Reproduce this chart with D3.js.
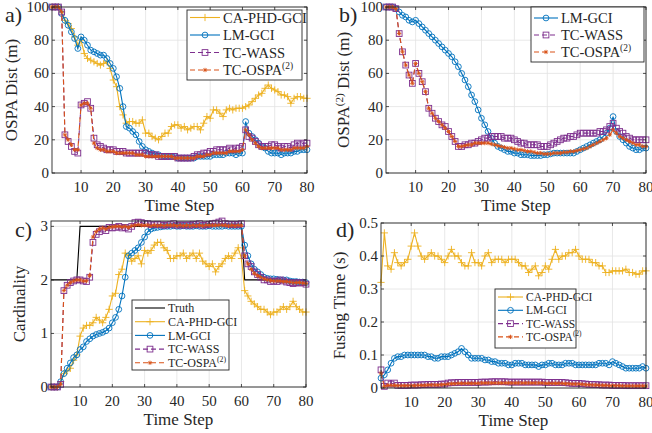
<!DOCTYPE html>
<html><head><meta charset="utf-8">
<script src="https://cdn.jsdelivr.net/npm/d3@7"></script>
<style>body{margin:0;background:#fff}svg{display:block;font-family:'Liberation Serif','DejaVu Serif','Times New Roman',serif}</style>
</head><body><svg id="c" width="652" height="433" font-family="Liberation Serif, DejaVu Serif, serif"></svg>
<script>
const timeSteps = d3.range(1, 81);
const xTicks = [10,20,30,40,50,60,70,80];

// Panel a) OSPA Dist (m)
const a_CA = [100,100,100,97,92,90,87,82,77,80, 72,69,68,67,66,65,66,67,63,56, 52,40,35,30,31,31,30,30,32,24, 24,22,21,20,22,24,24,28,29,29, 27,28,26,27,28,28,26,30,34,33, 38,38,36,34,38,39,38,39,39,39, 40,41,43,45,47,48,51,53,51,50, 49,47,47,46,42,45,46,46,45,45];
const a_LM = [100,100,100,96,92,89,85,81,75,82, 80,77,74,73,72,71,71,69,66,63, 58,51,40,28,27,25,23,19,16,14, 13,12,11,11,10,10,10,10,10,9, 9,9,9,9,9,10,10,10,10,10, 11,11,11,11,12,12,12,11,12,12, 31,24,22,20,18,16,15,13,12,12, 12,11,12,12,12,13,13,14,14,14];
const a_WASS = [100,100,100,97,23,19,16,13,12,41, 42,43,39,21,17,16,15,14,14,14, 13,13,13,12,12,12,12,12,12,12, 11,11,11,10,10,10,10,10,10,9, 9,9,9,9,10,11,11,12,12,13, 13,14,14,14,14,15,14,15,15,16, 26,22,21,19,17,16,16,16,17,17, 16,15,16,16,15,17,18,17,18,18];
const a_OSPA = [100,100,100,97,23,20,17,14,14,41, 42,42,39,18,15,14,14,13,13,13, 12,12,12,12,12,12,11,11,11,10, 10,10,10,10,10,10,10,10,9,9, 9,9,9,9,9,10,10,10,11,11, 12,12,12,12,12,13,13,13,13,14, 26,23,20,18,16,15,15,15,15,15, 15,14,14,14,14,15,15,15,15,16];

// Panel b) OSPA(2) Dist (m)
const b_LM = [100,100,100,99,97,95,94,92,91,92, 90,88,86,84,82,80,78,76,74,72, 70,67,64,60,56,52,47,43,38,33, 29,25,21,18,16,15,14,13,13,12, 12,11,11,11,10.5,10.5,10.5,10.5,11,11, 11.5,12,12,12,12,12,12,12,13,14, 15,16,17,18,19,20,22,24,27,34, 25,22,20,18,16,15,14,14,15,15];
const b_WASS = [100,100,100,99,84,73,65,59,54,66, 60,55,49,39,36,33,31,29,28,25, 22,19,16,16,17,17,18,18,19,20, 21,21,22,22,22,22,21,21,21,20, 19,18,18,17,17,17,17,16,16,16, 17,18,19,20,21,21,22,22,23,24, 24,24,24,24,24,25,25,26,28,30, 27,25,24,22,21,20,20,20,20,20];
const b_OSPA = [100,100,100,99,84,73,65,59,54,66, 60,55,49,39,36,33,31,29,27,25, 22,19,16,16,16.5,17,17,18,18,18, 18,18,17.5,17,16.5,16,15.5,15,15,14.5, 14,14,13.5,13,13,12.5,12,12,11.5,11.5, 11.5,12,12,12,12.5,12.5,13,13,13.5,14, 14.5,15,16,17,18,19,20,21,23,26, 24,22,21,20,19,18,17,17,16,16];

// Panel c) Cardinality
const c_Truth = [2,2,2,2,2,2,2,2,2,3, 3,3,3,3,3,3,3,3,3,3, 3,3,3,3,3,3,3,3,3,3, 3,3,3,3,3,3,3,3,3,3, 3,3,3,3,3,3,3,3,3,3, 3,3,3,3,3,3,3,3,3,3, 2,2,2,2,2,2,2,2,2,2, 2,2,2,2,2,2,2,2,2,2];
const c_CA = [0,0,0,0.1,0.25,0.3,0.35,0.5,0.6,0.95, 1.1,1.15,1.15,1.2,1.3,1.25,1.2,1.3,1.45,1.7, 1.75,2.1,2.2,2.5,2.45,2.35,2.4,2.45,2.3,2.55, 2.5,2.55,2.65,2.7,2.7,2.6,2.55,2.4,2.4,2.45, 2.45,2.5,2.4,2.45,2.5,2.4,2.5,2.35,2.3,2.25, 2.3,2.15,2.25,2.3,2.4,2.45,2.4,2.5,2.6,2.4, 1.8,1.7,1.6,1.55,1.5,1.45,1.45,1.4,1.35,1.4, 1.4,1.45,1.5,1.45,1.5,1.6,1.5,1.45,1.4,1.4];
const c_LM = [0,0,0,0.1,0.25,0.35,0.45,0.55,0.6,0.7, 0.75,0.85,0.9,0.95,0.98,1.0,1.02,1.05,1.1,1.2, 1.3,1.45,1.7,2.05,2.45,2.5,2.55,2.6,2.7,2.8, 2.9,2.95,2.97,2.98,2.99,3.0,3.0,3.0,3.01,3.0, 3.0,3.01,3.0,3.0,3.0,3.01,3.0,3.0,3.0,3.01, 3.0,3.0,3.0,3.0,3.01,3.0,3.0,3.0,3.0,3.0, 2.65,2.45,2.3,2.2,2.15,2.1,2.05,2.03,2.02,2.02, 2.01,2.0,2.0,2.0,1.98,1.97,1.97,1.96,1.96,1.95];
const c_WASS = [0,0,0,0.05,1.8,1.9,1.95,1.98,2.0,2.0, 1.98,1.97,2.05,2.7,2.85,2.9,2.95,2.92,2.98,2.97, 2.98,3.0,2.97,2.98,2.95,3.0,3.07,3.08,3.07,3.05, 3.05,3.03,3.03,3.04,3.03,3.02,3.03,3.03,3.05,3.02, 3.03,3.02,3.03,3.02,3.04,3.03,3.05,3.02,3.03,3.04, 3.05,3.06,3.08,3.1,3.05,3.04,3.03,3.04,3.03,3.05, 2.45,2.3,2.25,2.15,2.1,2.05,2.0,2.0,1.97,1.98, 1.97,2.0,1.98,1.96,1.95,1.93,1.95,1.94,1.95,1.92];
const c_OSPA = [0,0,0,0.05,1.8,1.9,1.95,1.98,2.0,2.0, 1.98,1.98,2.08,2.8,2.9,2.95,2.97,2.95,2.98,2.99, 3.0,3.0,2.99,3.0,2.98,3.01,3.02,3.03,3.02,3.02, 3.02,3.01,3.02,3.01,3.02,3.01,3.02,3.02,3.02,3.01, 3.02,3.01,3.02,3.01,3.02,3.01,3.02,3.01,3.02,3.02, 3.02,3.02,3.02,3.02,3.02,3.01,3.02,3.01,3.02,3.02, 2.45,2.3,2.2,2.12,2.08,2.05,2.02,2.0,1.99,1.98, 1.98,1.98,1.97,1.97,1.96,1.95,1.95,1.95,1.94,1.93];

// Panel d) Fusing Time (s)
const d_CA = [0.32,0.47,0.37,0.36,0.41,0.38,0.37,0.38,0.39,0.43, 0.47,0.43,0.40,0.39,0.40,0.41,0.40,0.40,0.39,0.38, 0.40,0.42,0.40,0.40,0.38,0.37,0.37,0.41,0.38,0.38, 0.37,0.40,0.41,0.38,0.39,0.39,0.39,0.38,0.39,0.39, 0.39,0.38,0.37,0.37,0.35,0.36,0.37,0.34,0.35,0.37, 0.36,0.39,0.42,0.39,0.40,0.40,0.41,0.41,0.42,0.40, 0.39,0.39,0.39,0.38,0.38,0.37,0.37,0.35,0.35,0.355, 0.355,0.355,0.355,0.36,0.35,0.35,0.345,0.345,0.355,0.355];
const d_LM = [0.03,0.04,0.055,0.075,0.09,0.095,0.095,0.1,0.1,0.1, 0.1,0.1,0.1,0.1,0.095,0.095,0.09,0.09,0.095,0.095, 0.095,0.1,0.105,0.11,0.12,0.11,0.1,0.09,0.09,0.09, 0.09,0.085,0.085,0.08,0.08,0.075,0.075,0.075,0.07,0.07, 0.075,0.075,0.075,0.07,0.07,0.07,0.07,0.065,0.07,0.07, 0.075,0.075,0.07,0.07,0.07,0.075,0.075,0.075,0.07,0.07, 0.07,0.07,0.07,0.07,0.07,0.075,0.075,0.075,0.07,0.08, 0.075,0.07,0.065,0.06,0.06,0.06,0.06,0.06,0.065,0.06];
const d_WASS = [0.055,0.005,0.015,0.012,0.015,0.008,0.008,0.008,0.008,0.009, 0.009,0.009,0.01,0.01,0.011,0.011,0.011,0.011,0.012,0.012, 0.015,0.016,0.016,0.017,0.017,0.017,0.017,0.017,0.017,0.017, 0.018,0.018,0.018,0.019,0.019,0.019,0.019,0.019,0.018,0.018, 0.018,0.018,0.018,0.018,0.018,0.018,0.018,0.018,0.018,0.017, 0.017,0.017,0.017,0.017,0.017,0.016,0.015,0.014,0.014,0.014, 0.013,0.012,0.011,0.011,0.01,0.01,0.009,0.009,0.009,0.008, 0.008,0.008,0.008,0.007,0.007,0.007,0.007,0.007,0.007,0.007];
const d_OSPA = [0.045,0.004,0.008,0.008,0.008,0.007,0.007,0.007,0.007,0.007, 0.007,0.008,0.008,0.008,0.009,0.009,0.009,0.009,0.01,0.01, 0.012,0.013,0.013,0.014,0.014,0.014,0.014,0.014,0.014,0.014, 0.015,0.015,0.015,0.015,0.015,0.015,0.015,0.015,0.015,0.015, 0.015,0.015,0.015,0.015,0.015,0.015,0.015,0.015,0.015,0.014, 0.014,0.014,0.014,0.014,0.014,0.013,0.013,0.012,0.012,0.012, 0.011,0.01,0.01,0.009,0.009,0.008,0.008,0.008,0.007,0.007, 0.007,0.007,0.006,0.006,0.006,0.006,0.006,0.006,0.006,0.006];

const STY = {
  Truth: {name:"Truth", color:"#000000", marker:null, dash:null},
  CA:    {name:"CA-PHD-GCI", color:"#EDB120", marker:"plus", dash:null},
  LM:    {name:"LM-GCI", color:"#0072BD", marker:"circle", dash:null},
  WASS:  {name:"TC-WASS", color:"#7E2F8E", marker:"square", dash:"5,3"},
  OSPA:  {name:"TC-OSPA", sup:"(2)", color:"#D95319", marker:"star", dash:"5,3"}
};

const FONT = "'Liberation Serif','DejaVu Serif',serif";
const svg = d3.select("#c");

function txt(g) { return g.append("text").attr("font-family", FONT).attr("fill", "#262626"); }

function marker(g, type, cx, cy, color, s) {
  if (type === "plus") {
    g.append("path").attr("d", `M${cx-s},${cy}H${cx+s}M${cx},${cy-s}V${cy+s}`).attr("stroke", color).attr("stroke-width", 0.9).attr("fill","none");
  } else if (type === "circle") {
    g.append("circle").attr("cx", cx).attr("cy", cy).attr("r", s*0.8).attr("stroke", color).attr("stroke-width", 0.9).attr("fill","none");
  } else if (type === "square") {
    g.append("rect").attr("x", cx-s*0.8).attr("y", cy-s*0.8).attr("width", s*1.6).attr("height", s*1.6).attr("stroke", color).attr("stroke-width", 0.9).attr("fill","none");
  } else if (type === "star") {
    const k = s*0.6;
    g.append("path").attr("d", `M${cx-k},${cy}H${cx+k}M${cx},${cy-k}V${cy+k}M${cx-k*0.7},${cy-k*0.7}L${cx+k*0.7},${cy+k*0.7}M${cx-k*0.7},${cy+k*0.7}L${cx+k*0.7},${cy-k*0.7}`).attr("stroke", color).attr("stroke-width", 0.9).attr("fill","none");
  }
}

function drawPanel(p) {
  const g = svg.append("g");
  const x = d3.scaleLinear().domain([1, 80]).range([p.l, p.r]);
  const y = d3.scaleLinear().domain(p.yd).range([p.b, p.t]);
  xTicks.forEach(v => g.append("line").attr("x1", x(v)).attr("x2", x(v)).attr("y1", p.t).attr("y2", p.b).attr("stroke", "#e2e2e2").attr("stroke-width", 0.8));
  p.yTicks.forEach(v => g.append("line").attr("x1", p.l).attr("x2", p.r).attr("y1", y(v)).attr("y2", y(v)).attr("stroke", "#e2e2e2").attr("stroke-width", 0.8));
  const clip = "clip" + p.id;
  svg.append("clipPath").attr("id", clip).append("rect").attr("x", p.l-4).attr("y", p.t-4).attr("width", p.r-p.l+8).attr("height", p.b-p.t+8);
  const sg = g.append("g").attr("clip-path", `url(#${clip})`);
  const line = d3.line().x((d,i) => x(timeSteps[i])).y(d => y(d));
  p.series.forEach(s => {
    const st = STY[s.key];
    sg.append("path").datum(s.values).attr("d", line).attr("fill", "none").attr("stroke", st.color).attr("stroke-width", 1.1).attr("stroke-dasharray", st.dash);
    if (st.marker) s.values.forEach((v,i) => marker(sg, st.marker, x(timeSteps[i]), y(v), st.color, 3.6));
  });
  g.append("rect").attr("x", p.l).attr("y", p.t).attr("width", p.r-p.l).attr("height", p.b-p.t).attr("fill", "none").attr("stroke", "#262626").attr("stroke-width", 0.9);
  xTicks.forEach(v => {
    g.append("line").attr("x1", x(v)).attr("x2", x(v)).attr("y1", p.b).attr("y2", p.b-3).attr("stroke", "#262626").attr("stroke-width", 0.8);
    g.append("line").attr("x1", x(v)).attr("x2", x(v)).attr("y1", p.t).attr("y2", p.t+3).attr("stroke", "#262626").attr("stroke-width", 0.8);
    txt(g).attr("x", x(v)).attr("y", p.b + 19).attr("text-anchor", "middle").attr("font-size", 15).text(v);
  });
  p.yTicks.forEach(v => {
    g.append("line").attr("x1", p.l).attr("x2", p.l+3).attr("y1", y(v)).attr("y2", y(v)).attr("stroke", "#262626").attr("stroke-width", 0.8);
    g.append("line").attr("x1", p.r).attr("x2", p.r-3).attr("y1", y(v)).attr("y2", y(v)).attr("stroke", "#262626").attr("stroke-width", 0.8);
    txt(g).attr("x", p.l - 3).attr("y", y(v) + 5).attr("text-anchor", "end").attr("font-size", 15).text(p.fmt(v));
  });
  txt(g).attr("x", (p.l+p.r)/2).attr("y", p.b + 38).attr("text-anchor", "middle").attr("font-size", 17).text("Time Step");
  const yl = txt(g).attr("transform", `translate(${p.ylx},${(p.t+p.b)/2}) rotate(-90)`).attr("text-anchor", "middle").attr("font-size", 17);
  p.ylabel.forEach(part => {
    const ts = yl.append("tspan").text(part.t);
    if (part.sup) ts.attr("font-size", 11).attr("dy", -6);
    if (part.after) ts.attr("dy", 6);
  });
  txt(g).attr("x", p.lab[0]).attr("y", p.lab[1]).attr("font-size", 22).text(p.label);
  const L = p.legend;
  const lg = g.append("g");
  lg.append("rect").attr("x", L.x).attr("y", L.y).attr("width", L.w).attr("height", L.h).attr("fill", "#fff").attr("stroke", "#262626").attr("stroke-width", 0.9);
  L.keys.forEach((k, i) => {
    const st = STY[k];
    const yy = L.y + L.pad + i * L.dy;
    lg.append("line").attr("x1", L.x + 3).attr("x2", L.x + 3 + L.sw).attr("y1", yy).attr("y2", yy).attr("stroke", st.color).attr("stroke-width", 1.1).attr("stroke-dasharray", st.dash);
    if (st.marker) marker(lg, st.marker, L.x + 3 + L.sw/2, yy, st.color, 3.6);
    const tx = txt(lg).attr("x", L.x + 6 + L.sw).attr("y", yy + L.fs*0.35).attr("font-size", L.fs).text(st.name);
    if (st.sup) tx.append("tspan").attr("font-size", L.fs*0.65).attr("dy", -L.fs*0.4).text(st.sup);
  });
}

drawPanel({id:"a", l:52, r:307, t:7, b:173, yd:[0,100], yTicks:[0,20,40,60,80,100], fmt:d=>d,
  ylabel:[{t:"OSPA Dist (m)"}], ylx:17, label:"a)", lab:[5,22],
  series:[{key:"CA",values:a_CA},{key:"LM",values:a_LM},{key:"WASS",values:a_WASS},{key:"OSPA",values:a_OSPA}],
  legend:{x:187,y:10,w:115,h:70,pad:7.5,dy:17.5,sw:30,fs:14.5,keys:["CA","LM","WASS","OSPA"]}});

drawPanel({id:"b", l:386, r:646, t:7, b:173, yd:[0,100], yTicks:[0,20,40,60,80,100], fmt:d=>d,
  ylabel:[{t:"OSPA"},{t:"(2)",sup:true},{t:" Dist (m)",after:true}], ylx:349, label:"b)", lab:[339,22],
  series:[{key:"LM",values:b_LM},{key:"WASS",values:b_WASS},{key:"OSPA",values:b_OSPA}],
  legend:{x:531,y:7,w:113,h:55,pad:11,dy:17,sw:24,fs:14.5,keys:["LM","WASS","OSPA"]}});

drawPanel({id:"c", l:51, r:306, t:221, b:387, yd:[0,3.1], yTicks:[0,1,2,3], fmt:d=>d,
  ylabel:[{t:"Cardinality"}], ylx:25, label:"c)", lab:[15,237],
  series:[{key:"Truth",values:c_Truth},{key:"CA",values:c_CA},{key:"LM",values:c_LM},{key:"WASS",values:c_WASS},{key:"OSPA",values:c_OSPA}],
  legend:{x:132,y:300,w:97,h:70,pad:8,dy:13.7,sw:30,fs:12,keys:["Truth","CA","LM","WASS","OSPA"]}});

drawPanel({id:"d", l:381, r:646, t:223, b:388, yd:[0,0.5], yTicks:[0,0.1,0.2,0.3,0.4,0.5], fmt:d=>d===0?"0":d3.format(".1f")(d),
  ylabel:[{t:"Fusing Time (s)"}], ylx:345, label:"d)", lab:[336,237],
  series:[{key:"CA",values:d_CA},{key:"LM",values:d_LM},{key:"WASS",values:d_WASS},{key:"OSPA",values:d_OSPA}],
  legend:{x:495,y:289,w:81,h:59,pad:8,dy:13.3,sw:25,fs:11.5,keys:["CA","LM","WASS","OSPA"]}});
</script></body></html>
